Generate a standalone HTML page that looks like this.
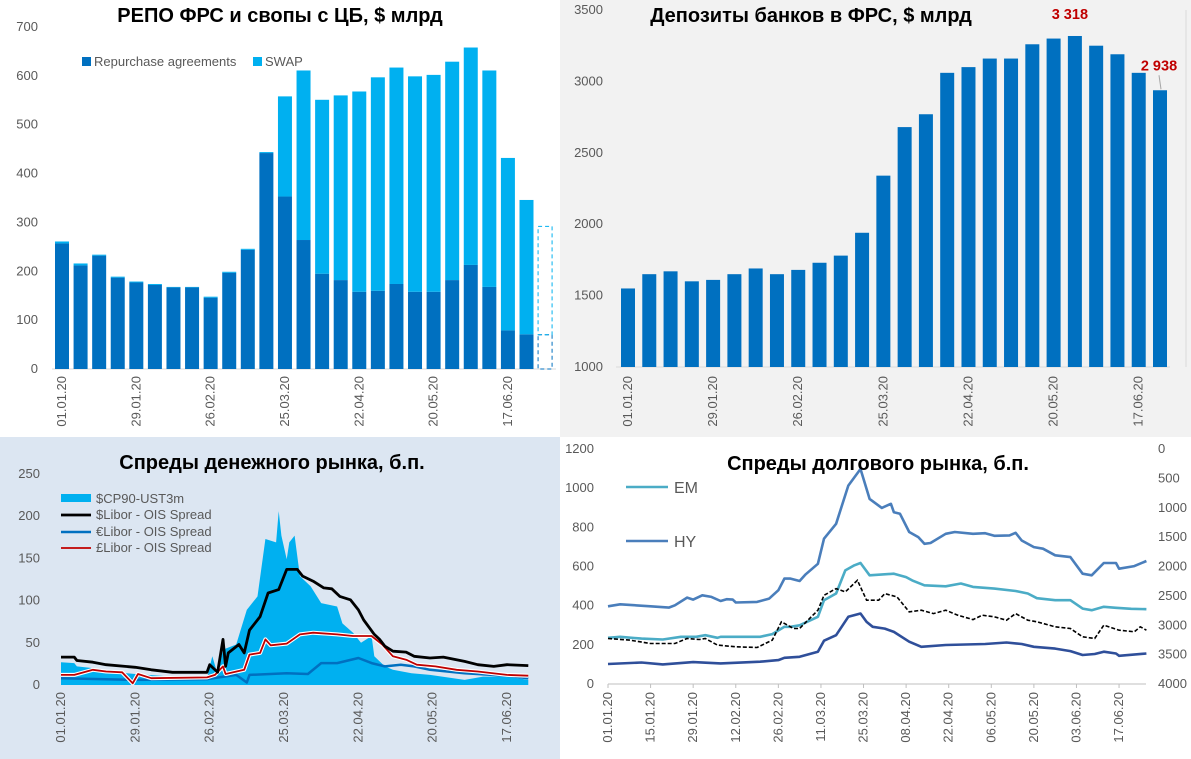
<!DOCTYPE html>
<html><head><meta charset="utf-8"><style>
html,body{margin:0;padding:0;width:1191px;height:759px;overflow:hidden;background:#fff;}
svg{display:block;font-family:"Liberation Sans","DejaVu Sans",sans-serif;}
.t{font-size:13px;fill:#595959;}
.ttl{font-size:20px;font-weight:bold;fill:#000;}
</style></head><body>
<svg id="root" width="1191" height="759" viewBox="0 0 1191 759">
<rect x="0" y="0" width="560" height="437" fill="#ffffff"/>
<rect x="560" y="0" width="631" height="437" fill="#f2f2f2"/>
<rect x="0" y="437" width="560" height="322" fill="#dce6f2"/>
<rect x="560" y="437" width="631" height="322" fill="#ffffff"/>
<g id="p1"></g>
<g id="p2"></g>
<g id="p3"></g>
<g id="p4"></g>
</svg>
<script>
// ---------- Panel 1 data ----------
const repoCats = ["01.01.20","08.01.20","15.01.20","22.01.20","29.01.20","05.02.20","12.02.20","19.02.20","26.02.20","04.03.20","11.03.20","18.03.20","25.03.20","01.04.20","08.04.20","15.04.20","22.04.20","29.04.20","06.05.20","13.05.20","20.05.20","27.05.20","03.06.20","10.06.20","17.06.20","24.06.20"];
const repoValues = [257,212,232,187,177,172,167,167,146,197,244,442,353,264,195,182,158,160,174,158,158,182,213,168,79,71];
const swapValues = [4,4,2,2,2,2,1,1,2,2,2,2,205,347,356,378,410,437,443,441,444,447,445,443,353,275];
const repoForecast = [70,222];
const repoTicks = [0,100,200,300,400,500,600,700];
// ---------- Panel 2 data ----------
const depCats = repoCats;
const depValues = [1550,1650,1670,1600,1610,1650,1690,1650,1680,1730,1780,1940,2340,2680,2770,3060,3100,3160,3160,3260,3300,3318,3250,3190,3060,2938];
const depTicks = [1000,1500,2000,2500,3000,3500];
// ---------- Panel 3 data (day index from 01.01.20) ----------
const mmTickLabels = ["01.01.20","29.01.20","26.02.20","25.03.20","22.04.20","20.05.20","17.06.20"];
const mmTickDays = [0,28,56,84,112,140,168];
const mmYTicks = [0,50,100,150,200,250];
const usdDays = [0,5,6,12,17,28,34,42,55,56,59,61,62,63,67,69,71,75,78,82,85,89,91,95,99,102,105,109,112,114,118,120,122,125,130,133,139,144,152,157,163,168,176];
const usdValues = [33,33,29,27,24,21,18,15,15,24,15,54,22,38,48,38,65,81,109,113,137,137,129,123,115,114,105,101,89,77,60,54,46,40,39,34,32,33,28,24,22,24,23];
const cpDays = [0,5,6,12,17,28,42,55,57,59,61,66,70,74,77,81,82,83,85,86,88,90,94,98,104,106,110,113,117,118,122,125,132,139,152,159,168,176];
const cpValues = [27,26,22,20,16,13,10,8,34,13,42,48,89,105,173,169,206,177,149,169,177,129,117,97,93,73,62,50,58,34,22,18,14,12,6,10,10,6];
const eurDays = [0,28,55,66,70,71,85,93,98,104,112,117,122,128,133,139,152,168,176];
const eurValues = [8,6,7,12,3,12,14,13,26,26,32,26,22,24,22,18,14,11,8];
const gbpDays = [0,5,12,17,23,27,29,34,55,58,61,62,69,71,75,77,79,85,90,95,104,110,117,121,125,130,134,141,149,157,168,176];
const gbpValues = [12,12,18,16,15,2,13,8,9,12,22,13,18,36,38,54,47,49,60,62,60,58,58,48,34,30,24,22,18,16,12,11];
// ---------- Panel 4 data ----------
const dmTickLabels = ["01.01.20","15.01.20","29.01.20","12.02.20","26.02.20","11.03.20","25.03.20","08.04.20","22.04.20","06.05.20","20.05.20","03.06.20","17.06.20"];
const dmTickDays = [0,14,28,42,56,70,84,98,112,126,140,154,168];
const dmLeftTicks = [0,200,400,600,800,1000,1200];
const dmRightTicks = [0,500,1000,1500,2000,2500,3000,3500,4000];
const hyDays = [0,4,14,20,22,26,28,31,34,37,39,41,42,49,53,56,58,60,63,65,69,71,75,79,83,86,90,93,94,96,99,102,104,106,111,114,120,124,127,132,134,136,140,143,147,152,156,159,163,167,168,173,177];
const hyValues = [397,407,397,390,402,441,431,453,445,424,433,431,416,419,436,479,538,538,526,560,614,742,818,1013,1098,945,899,920,877,869,776,750,716,720,767,776,767,770,757,759,772,733,699,691,657,648,563,555,618,618,589,602,628];
const emDays = [0,4,11,18,24,29,32,36,37,41,50,54,58,60,63,69,71,75,78,81,83,86,94,98,100,104,111,116,120,127,134,138,141,147,152,156,159,163,167,172,177];
const emValues = [236,241,232,227,241,241,249,236,241,241,241,255,292,292,300,343,428,462,580,606,618,555,563,546,529,504,499,513,496,487,475,462,438,428,428,385,377,394,389,384,382];
const hyLowDays = [0,11,18,28,37,50,56,58,63,69,71,75,79,83,85,87,91,94,99,103,111,124,131,136,140,147,152,156,160,163,167,168,177];
const hyLowValues = [102,110,100,112,105,114,122,134,139,165,221,249,343,360,317,292,283,266,216,190,199,204,212,204,190,181,168,148,153,165,156,144,156];
const dashDays = [0,7,14,22,26,30,32,36,42,49,54,57,61,63,69,71,75,78,82,85,89,91,95,99,103,107,111,115,120,123,127,131,134,138,141,147,152,156,160,163,168,173,175,177];
const dashValues = [3225,3253,3310,3310,3225,3242,3225,3338,3367,3378,3253,2942,3055,3055,2744,2490,2376,2433,2235,2574,2574,2461,2518,2772,2744,2801,2744,2829,2903,2829,2857,2914,2801,2914,2942,3027,3055,3197,3225,2999,3084,3112,3027,3084];

const NS='http://www.w3.org/2000/svg';
function mk(parent,tag,attrs,text){const e=document.createElementNS(NS,tag);for(const k in attrs)e.setAttribute(k,attrs[k]);if(text!==undefined)e.textContent=text;parent.appendChild(e);return e;}
function vlabel(g,x,y,s){return mk(g,'text',{x:x,y:y,'class':'t','text-anchor':'end',transform:'rotate(-90 '+x+' '+y+')'},s);}
function pathFrom(days,vals,xf,yf){return days.map((d,i)=>(i?'L':'M')+xf(d).toFixed(1)+','+yf(vals[i]).toFixed(1)).join('');}

// ===== Panel 1 =====
(function(){
const g=document.getElementById('p1');
const x0=62, step=18.58, bw=14;
const y=v=>369-v*(342/700);
const xb=i=>x0+i*step;
let e=mk(g,'text',{x:280,y:22,'class':'ttl','text-anchor':'middle'},'РЕПО ФРС и свопы с ЦБ, $ млрд');

repoTicks.forEach(t=>{e=mk(g,'text',{x:38,y:y(t)+4,'class':'t','text-anchor':'end'},t);
 });
mk(g,'line',{x1:52,x2:556,y1:369,y2:369,stroke:'#d9d9d9'});
repoValues.forEach((v,i)=>{
 e=mk(g,'rect',{x:xb(i)-bw/2,y:y(v),width:bw,height:369-y(v),fill:'#0070c0'});
 
 const s=swapValues[i];
 e=mk(g,'rect',{x:xb(i)-bw/2,y:y(v+s),width:bw,height:y(v)-y(v+s),fill:'#00b0f0'});
 
});
const fi=repoValues.length;
e=mk(g,'rect',{x:xb(fi)-bw/2,y:y(repoForecast[0]),width:bw,height:369-y(repoForecast[0]),fill:'none',stroke:'#0070c0','stroke-dasharray':'4,3'});

e=mk(g,'rect',{x:xb(fi)-bw/2,y:y(repoForecast[0]+repoForecast[1]),width:bw,height:y(repoForecast[0])-y(repoForecast[0]+repoForecast[1]),fill:'none',stroke:'#00b0f0','stroke-dasharray':'4,3'});

repoCats.forEach((c,i)=>{if(i%4===0){e=vlabel(g,xb(i)+4,376,c);
 }});
e=mk(g,'rect',{x:82,y:57,width:9,height:9,fill:'#0070c0'});
e=mk(g,'text',{x:94,y:66,'class':'t'},'Repurchase agreements');
e=mk(g,'rect',{x:253,y:57,width:9,height:9,fill:'#00b0f0'});
e=mk(g,'text',{x:265,y:66,'class':'t'},'SWAP');
})();

// ===== Panel 2 =====
(function(){
const g=document.getElementById('p2');
const x0=628, step=21.28, bw=14;
const y=v=>367-(v-1000)*(357/2500);
const xb=i=>x0+i*step;
let e=mk(g,'text',{x:811,y:22,'class':'ttl','text-anchor':'middle'},'Депозиты банков в ФРС, $ млрд');

depTicks.forEach(t=>{e=mk(g,'text',{x:603,y:y(t)+4,'class':'t','text-anchor':'end'},t);
 });
mk(g,'line',{x1:616,x2:1170,y1:367,y2:367,stroke:'#d9d9d9'});
mk(g,'line',{x1:1186,x2:1186,y1:10,y2:367,stroke:'#d9d9d9'});
depValues.forEach((v,i)=>{e=mk(g,'rect',{x:xb(i)-bw/2,y:y(v),width:bw,height:367-y(v),fill:'#0070c0'});
 });
depCats.forEach((c,i)=>{if(i%4===0){e=vlabel(g,xb(i)+4,376,c);
 }});
let mi=depValues.indexOf(Math.max(...depValues));
const fmt=v=>String(v).replace(/(\d)(\d{3})$/,'$1 $2');
e=mk(g,'text',{x:xb(mi)-5,y:y(depValues[mi])-17,'text-anchor':'middle','font-size':'14.5','font-weight':'bold',fill:'#c00000'},fmt(depValues[mi]));

const li=depValues.length-1;
e=mk(g,'text',{x:xb(li)-1,y:y(depValues[li])-20,'text-anchor':'middle','font-size':'14.5','font-weight':'bold',fill:'#c00000'},fmt(depValues[li]));

mk(g,'line',{x1:xb(li)-1,x2:xb(li)+1,y1:y(depValues[li])-15,y2:y(depValues[li])-1,stroke:'#a6a6a6'});
})();

// ===== Panel 3 =====
(function(){
const g=document.getElementById('p3');
const x=d=>61+d*2.655;
const y=v=>685-v*(211/250);
let e=mk(g,'text',{x:272,y:469,'class':'ttl','text-anchor':'middle'},'Спреды денежного рынка, б.п.');

mmYTicks.forEach(t=>{e=mk(g,'text',{x:40,y:y(t)+4,'class':'t','text-anchor':'end'},t);
 });
const area=pathFrom(cpDays,cpValues,x,y)+'L'+x(cpDays[cpDays.length-1])+','+y(0)+'L'+x(0)+','+y(0)+'Z';
e=mk(g,'path',{d:area,fill:'#00b0f0'});
e=mk(g,'path',{d:pathFrom(eurDays,eurValues,x,y),fill:'none',stroke:'#0070c0','stroke-width':2.5,'stroke-linejoin':'round'});

e=mk(g,'path',{d:pathFrom(gbpDays,gbpValues,x,y),fill:'none',stroke:'#ffffff','stroke-width':4,'stroke-linejoin':'round'});

e=mk(g,'path',{d:pathFrom(gbpDays,gbpValues,x,y),fill:'none',stroke:'#c00000','stroke-width':1.8,'stroke-linejoin':'round'});

e=mk(g,'path',{d:pathFrom(usdDays,usdValues,x,y),fill:'none',stroke:'#000000','stroke-width':2.8,'stroke-linejoin':'round'});

mmTickDays.forEach((d,i)=>{e=vlabel(g,x(d)+4,692,mmTickLabels[i]);
 });
const lx=61, tx=100;
e=mk(g,'rect',{x:lx,y:494,width:30,height:8,fill:'#00b0f0'});
e=mk(g,'text',{x:tx-4,y:503,'class':'t'},'$CP90-UST3m');
e=mk(g,'line',{x1:lx,x2:lx+30,y1:515,y2:515,stroke:'#000',"stroke-width":2.8});
e=mk(g,'text',{x:tx-4,y:519,'class':'t'},'$Libor - OIS Spread');
e=mk(g,'line',{x1:lx,x2:lx+30,y1:532,y2:532,stroke:'#0070c0',"stroke-width":2.5});
e=mk(g,'text',{x:tx-4,y:536,'class':'t'},'€Libor - OIS Spread');
e=mk(g,'line',{x1:lx,x2:lx+30,y1:548,y2:548,stroke:'#c00000',"stroke-width":1.8});
e=mk(g,'text',{x:tx-4,y:552,'class':'t'},'£Libor - OIS Spread');
})();

// ===== Panel 4 =====
(function(){
const g=document.getElementById('p4');
const x=d=>608+d*3.042;
const y=v=>684-v*(235/1200);
const yr=v=>449+v*(235/4000);
let e;
dmLeftTicks.forEach(t=>{e=mk(g,'text',{x:594,y:y(t)+4,'class':'t','text-anchor':'end'},t);
 });
dmRightTicks.forEach(t=>{e=mk(g,'text',{x:1158,y:yr(t)+4,'class':'t'},t);
 });
mk(g,'line',{x1:608,x2:1146,y1:684,y2:684,stroke:'#bfbfbf'});
dmTickDays.forEach((d,i)=>{mk(g,'line',{x1:x(d),x2:x(d),y1:684,y2:688,stroke:'#bfbfbf'});
 e=vlabel(g,x(d)+4,692,dmTickLabels[i]);
 });
e=mk(g,'path',{d:pathFrom(hyDays,hyValues,x,y),fill:'none',stroke:'#4a7ebb','stroke-width':2.6,'stroke-linejoin':'round'});

e=mk(g,'path',{d:pathFrom(emDays,emValues,x,y),fill:'none',stroke:'#4bacc6','stroke-width':2.6,'stroke-linejoin':'round'});

e=mk(g,'path',{d:pathFrom(hyLowDays,hyLowValues,x,y),fill:'none',stroke:'#2f4f9a','stroke-width':2.6,'stroke-linejoin':'round'});

e=mk(g,'path',{d:pathFrom(dashDays,dashValues,x,yr),fill:'none',stroke:'#000','stroke-width':1.6,'stroke-dasharray':'4,2'});

e=mk(g,'text',{x:878,y:470,'class':'ttl','text-anchor':'middle'},'Спреды долгового рынка, б.п.');

e=mk(g,'line',{x1:626,x2:668,y1:487,y2:487,stroke:'#4bacc6','stroke-width':2.6});
e=mk(g,'text',{x:674,y:493,'font-size':'16',fill:'#595959'},'EM');
e=mk(g,'line',{x1:626,x2:668,y1:541,y2:541,stroke:'#4a7ebb','stroke-width':2.6});
e=mk(g,'text',{x:674,y:547,'font-size':'16',fill:'#595959'},'HY');
})();
</script>
</body></html>
